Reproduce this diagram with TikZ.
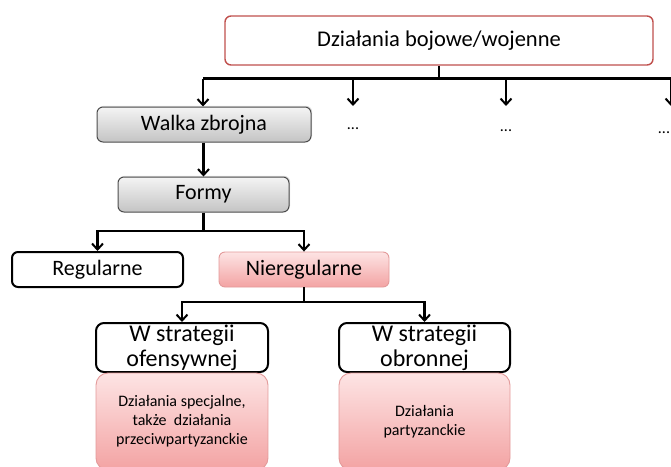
\documentclass[tikz,border=0pt]{standalone}
\usepackage{fontspec}
\setmainfont{Carlito}
\usetikzlibrary{arrows.meta,shadows}
\definecolor{topred}{HTML}{C0504D}
\definecolor{pinktop}{HTML}{FDE4E4}
\definecolor{pinkbot}{HTML}{F3A3A3}
\definecolor{pinkedge}{HTML}{E39A9A}
\definecolor{graytop}{HTML}{F4F4F4}
\definecolor{graybot}{HTML}{C4C4C4}
\tikzset{
  box/.style={draw, rounded corners=6pt, inner sep=0pt, align=center, font=\fontsize{22}{26}\selectfont},
  topbox/.style={box, draw=topred, line width=1.4pt, fill=white, font=\fontsize{22.5}{26}\selectfont},
  graybox/.style={box, draw=black!70, line width=1pt, top color=graytop, bottom color=graybot,
     drop shadow={opacity=0.25, shadow xshift=1.2pt, shadow yshift=1.2pt}},
  whitebox/.style={box, draw=black, line width=2pt, fill=white},
  stratbox/.style={whitebox, rounded corners=8pt, font=\fontsize{24}{25}\selectfont},
  pinkbox/.style={box, rounded corners=12pt, draw=pinkedge, line width=0.9pt, top color=pinktop, bottom color=pinkbot},
  pinktext/.style={font=\fontsize{16}{19}\selectfont},
  conn/.style={line width=2.2pt, black},
  arr/.style={conn, -{Straight Barb[length=6pt,width=11pt,line width=2pt]}},
  dots/.style={font=\fontsize{16}{18}\selectfont}
}
\begin{document}
\begin{tikzpicture}[x=1pt,y=-1pt]
\useasboundingbox (0,0) rectangle (671,466);
\clip (0,0) rectangle (671,466);

\node[topbox, minimum width=428pt, minimum height=49pt] (top) at (439,40.5) {Działania bojowe/wojenne};
\node[graybox, minimum width=214pt, minimum height=35pt] (walka) at (204,124.5) {Walka zbrojna};
\node[graybox, minimum width=171pt, minimum height=35pt] (formy) at (203.5,194.5) {Formy};
\node[whitebox, minimum width=171pt, minimum height=35pt] (reg) at (97.5,269.5) {Regularne};
\node[pinkbox, rounded corners=6pt, minimum width=170pt, minimum height=35pt] (nier) at (304,269.5) {Nieregularne};
\node[stratbox, minimum width=172pt, minimum height=49pt] (ofe) at (182,347.5) {W strategii\\ofensywnej};
\node[stratbox, minimum width=171pt, minimum height=49pt] (obr) at (424.5,347.5) {W strategii\\obronnej};
\node[pinkbox, pinktext, minimum width=172pt, minimum height=97pt] (p1) at (182,421.5) {Działania specjalne,\\także~ działania\\przeciwpartyzanckie};
\node[pinkbox, pinktext, minimum width=171pt, minimum height=97pt] (p2) at (424.5,421.5) {Działania\\partyzanckie};

\node[dots] (d1) at (353,129) {...};
\node[dots] (d2) at (506,131) {...};
\node[dots] (d3) at (664,133) {...};

\coordinate (h1) at (203,78.5);
\coordinate (hr) at (690,78.5);
\coordinate (a1) at (353,106);
\coordinate (a2) at (506,106);
\coordinate (a3) at (671,106);

\draw[conn] (top.south) -- (top.south |- h1);
\draw[conn] (h1) -- (hr);
\draw[arr] (h1) -- (walka.north -| h1);
\draw[arr] (a1 |- h1) -- (a1);
\draw[arr] (a2 |- h1) -- (a2);
\draw[arr] (a3 |- h1) -- (a3);

\draw[arr] (walka.south -| formy.north) -- (formy.north);

\coordinate (f1) at (203.5,231);
\draw[conn] (formy.south) -- (f1);
\draw[arr] (f1) -| (reg.north);
\draw[arr] (f1) -| (nier.north);

\coordinate (n1) at (304,302);
\draw[conn] (nier.south) -- (n1);
\draw[arr] (n1) -| (ofe.north);
\draw[arr] (n1) -| (obr.north);
\end{tikzpicture}
\end{document}
